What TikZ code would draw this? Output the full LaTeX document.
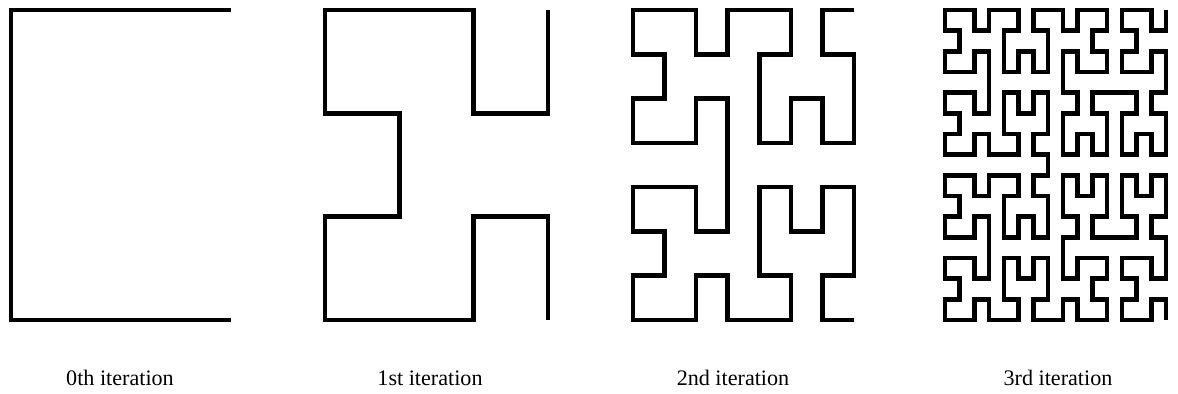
\documentclass[tikz,border=0pt]{standalone}
\usepackage{fontspec}
\setmainfont{Liberation Serif}
\usetikzlibrary{lindenmayersystems}
\definecolor{curveInk}{HTML}{000000}
\definecolor{labelInk}{HTML}{000000}

% Hilbert rules, turns swapped so the curve opens to the right
\pgfdeclarelindenmayersystem{hilbertright}{%
  \rule{A -> -BF+AFA+FB-}
  \rule{B -> +AF-BFB-FA+}}

\begin{document}
\begin{tikzpicture}[x=0.02cm,y=0.02cm]
  \useasboundingbox (0,0) rectangle (1178,394);
  % sketch: four iterations of the curve, all 310 high
  \foreach \k/\xr/\curvew/\xc/\txt in {0/231/220/120/0th, 1/548/223/430/1st, 2/854/221/733/2nd, 3/1166/221/1058/3rd}{
    \pgfmathtruncatemacro{\lvl}{\k+1}
    \pgfmathtruncatemacro{\segs}{2^\lvl-1}
    \begin{scope}[shift={(\xr,384)},xscale=\curvew/\segs,yscale=310/\segs,rotate=-90]
      \draw[curveInk,line width=2.6pt] (0,0) l-system[l-system={hilbertright,axiom=A,order=\lvl,step=0.02cm,angle=90}];
    \end{scope}
    \node[labelInk,anchor=base,font=\fontsize{12.6}{15}\selectfont] (lab\k) at (\xc,8) {\txt\ iteration};
  }
\end{tikzpicture}
\end{document}
